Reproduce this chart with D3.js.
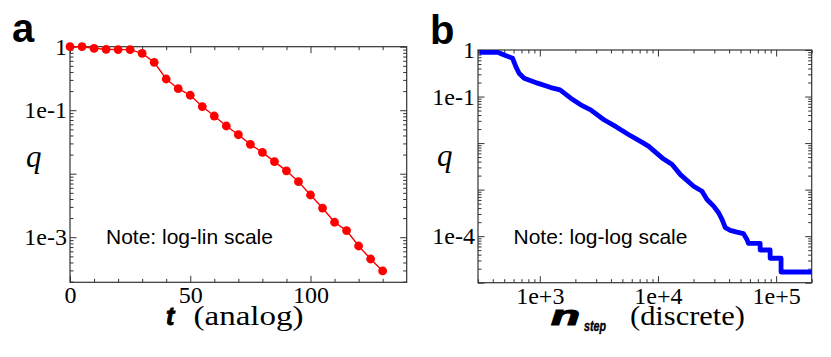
<!DOCTYPE html>
<html>
<head>
<meta charset="utf-8">
<script src="https://cdn.jsdelivr.net/npm/d3@7"></script>
<style>
  body { margin: 0; background: #fff; }
  svg { display: block; }
</style>
</head>
<body>
<svg id="chart" width="831" height="357"></svg>
<script>
// panel a: q vs t (analog), log-lin
var tA = [0, 5, 10, 15, 20, 25, 30, 35, 40, 45, 50, 55, 60, 65, 70, 75, 80, 85, 90, 95, 100, 105, 110, 115, 120, 125, 130];
var qA = [1.0, 1.0, 0.94, 0.91, 0.90, 0.90, 0.785, 0.568, 0.31, 0.218, 0.172, 0.114, 0.081, 0.0564, 0.0411, 0.029,
          0.0217, 0.0155, 0.0111, 0.0075, 0.00462, 0.00288, 0.00172, 0.00127, 0.000727, 0.000454, 0.000294];

// panel b: q vs n_step (discrete), log-log
var nStep = [308, 440, 500, 589, 627, 668, 737, 957, 1239, 1484, 1827, 2220, 2694, 3488, 4378, 5671, 7362, 8363,
             10840, 13180, 15490, 20040, 23600, 26000, 29570, 32590, 34830, 37130, 40940, 46590, 52970, 56620,
             58340, 73250, 73250, 88980, 88980, 110100, 110100, 200000];
var qB = [0.893, 0.893, 0.782, 0.664, 0.439, 0.317, 0.248, 0.194, 0.156, 0.139, 0.0924, 0.0664, 0.0519, 0.0317,
          0.0228, 0.0151, 0.01035, 0.0085, 0.0048, 0.00345, 0.0021, 0.00118, 0.000924, 0.000614, 0.000441,
          0.000318, 0.000229, 0.000152, 0.000133, 0.000122, 0.000113, 0.000085, 0.00007, 0.00007, 0.0000504,
          0.0000504, 0.0000335, 0.0000335, 0.000017, 0.000017];

var tTicksA = [0, 50, 100];
var qLabelsA = [1, 1e-1, 1e-3];
var nTicksB = [1e3, 1e4, 1e5];
var qLabelsB = [1, 1e-1, 1e-4];

var svg = d3.select('#chart'),
    serif = '"Liberation Serif", "Times New Roman", serif',
    sans = '"Liberation Sans", Arial, Helvetica, sans-serif',
    frameColor = '#333';

var fmtExp = function (v) {
  if (v === 1) return '1';
  var e = Math.round(Math.log10(v));
  return '1e' + (e > 0 ? '+' : '') + e;
};

// all 2..9 minor values inside a log domain
var logMinors = function (lo, hi) {
  var out = [];
  for (var e = Math.floor(Math.log10(lo)); e <= Math.ceil(Math.log10(hi)); e++) {
    for (var m = 2; m <= 9; m++) {
      var v = m * Math.pow(10, e);
      if (v >= lo && v <= hi) out.push(v);
    }
  }
  return out;
};
var decades = function (lo, hi) {
  var out = [];
  for (var e = Math.ceil(Math.log10(lo)); e <= Math.floor(Math.log10(hi)); e++) out.push(Math.pow(10, e));
  return out;
};

var styleAxis = function (g) {
  g.select('.domain').remove();
  g.selectAll('line').attr('stroke', frameColor).attr('stroke-width', 1);
  g.selectAll('text').attr('font-family', serif).attr('font-size', 24).attr('fill', '#000');
};

var drawFrame = function (x, y, opts) {
  var x0 = x.range()[0], x1 = x.range()[1], y0 = y.range()[0], y1 = y.range()[1];
  var g = svg.append('g');

  // bottom + top
  g.append('g').attr('transform', 'translate(0,' + y0 + ')')
    .call(d3.axisBottom(x).tickValues(opts.xMinor).tickSize(-3.5).tickFormat(''))
    .call(styleAxis);
  g.append('g').attr('transform', 'translate(0,' + y0 + ')')
    .call(d3.axisBottom(x).tickValues(opts.xMajor).tickSize(-6.5).tickPadding(4).tickFormat(opts.xFmt))
    .call(styleAxis);
  g.append('g').attr('transform', 'translate(0,' + y1 + ')')
    .call(d3.axisTop(x).tickValues(opts.xMinor).tickSize(-3.5).tickFormat(''))
    .call(styleAxis);
  g.append('g').attr('transform', 'translate(0,' + y1 + ')')
    .call(d3.axisTop(x).tickValues(opts.xMajor).tickSize(-6.5).tickFormat(''))
    .call(styleAxis);

  // left + right
  g.append('g').attr('transform', 'translate(' + x0 + ',0)')
    .call(d3.axisLeft(y).tickValues(opts.yMinor).tickSize(-3.5).tickFormat(''))
    .call(styleAxis);
  g.append('g').attr('transform', 'translate(' + x0 + ',0)')
    .call(d3.axisLeft(y).tickValues(opts.yMajor).tickSize(-6.5).tickPadding(3)
      .tickFormat(function (v) { return opts.yLabels.indexOf(v) >= 0 ? fmtExp(v) : ''; }))
    .call(styleAxis);
  g.append('g').attr('transform', 'translate(' + x1 + ',0)')
    .call(d3.axisRight(y).tickValues(opts.yMinor).tickSize(-3.5).tickFormat(''))
    .call(styleAxis);
  g.append('g').attr('transform', 'translate(' + x1 + ',0)')
    .call(d3.axisRight(y).tickValues(opts.yMajor).tickSize(-6.5).tickFormat(''))
    .call(styleAxis);

  g.append('rect')
    .attr('x', x0).attr('y', y1)
    .attr('width', x1 - x0).attr('height', y0 - y1)
    .attr('fill', 'none').attr('stroke', frameColor).attr('stroke-width', 1.2);
};

/* ---------- panel a ---------- */
var xA = d3.scaleLinear().domain([0, 140]).range([70, 406.7]),
    yA = d3.scaleLog().domain([Math.pow(10, -3.71), 1]).range([282.3, 46.7]);

drawFrame(xA, yA, {
  xMajor: tTicksA,
  xMinor: [10, 20, 30, 40, 60, 70, 80, 90, 110, 120, 130],
  xFmt: d3.format('d'),
  yMajor: decades(yA.domain()[0], 1),
  yMinor: logMinors(yA.domain()[0], 1),
  yLabels: qLabelsA
});

var ptsA = tA.map(function (t, i) { return [t, qA[i]]; });
svg.append('path')
  .datum(ptsA)
  .attr('d', d3.line().x(function (d) { return xA(d[0]); }).y(function (d) { return yA(d[1]); }))
  .attr('fill', 'none').attr('stroke', '#ff0000').attr('stroke-width', 1.4);
svg.append('g').selectAll('circle')
  .data(ptsA).enter().append('circle')
  .attr('cx', function (d) { return xA(d[0]); })
  .attr('cy', function (d) { return yA(d[1]); })
  .attr('r', 4.4)
  .attr('fill', '#ff0000');

/* ---------- panel b ---------- */
var xB = d3.scaleLog().domain([300, 2e5]).range([478, 811.7]),
    yB = d3.scaleLog().domain([1e-5, 1]).range([282.7, 50]);

drawFrame(xB, yB, {
  xMajor: nTicksB,
  xMinor: logMinors(300, 2e5),
  xFmt: fmtExp,
  yMajor: decades(1e-5, 1),
  yMinor: logMinors(1e-5, 1),
  yLabels: qLabelsB
});

var ptsB = nStep.map(function (n, i) { return [n, qB[i]]; });
svg.append('path')
  .datum(ptsB)
  .attr('d', d3.line().x(function (d) { return xB(d[0]); }).y(function (d) { return yB(d[1]); }))
  .attr('fill', 'none').attr('stroke', '#0000ff').attr('stroke-width', 4.8)
  .attr('stroke-linejoin', 'round');

/* ---------- text ---------- */
var txt = function (x, y, s, font, size, extra) {
  var t = svg.append('text').attr('x', x).attr('y', y).text(s)
    .attr('font-family', font).attr('font-size', size).attr('fill', '#000');
  if (extra) Object.keys(extra).forEach(function (k) { t.attr(k, extra[k]); });
  return t;
};

// panel letters
txt(12, 41.5, 'a', sans, 40, { 'font-weight': 'bold' });
txt(430, 43.5, 'b', sans, 40, { 'font-weight': 'bold' });

// y labels
txt(26, 167, 'q', serif, 31, { 'font-style': 'italic' });
txt(437, 166, 'q', serif, 31, { 'font-style': 'italic' });

// notes
txt(106, 243.5, 'Note: log-lin scale', sans, 21);
txt(513.5, 244, 'Note: log-log scale', sans, 21);

// x labels
txt(166, 324.5, 't', sans, 25, { 'font-weight': 'bold', 'font-style': 'italic', stroke: '#000', 'stroke-width': 0.9 });
txt(193.5, 325, '(analog)', serif, 27, { textLength: 110, lengthAdjust: 'spacingAndGlyphs' });
txt(551, 324.5, 'n', sans, 27, { 'font-weight': 'bold', 'font-style': 'italic', stroke: '#000', 'stroke-width': 1.1,
  textLength: 29, lengthAdjust: 'spacingAndGlyphs' });
txt(584, 331, 'step', sans, 14, { 'font-weight': 'bold', 'font-style': 'italic', stroke: '#000', 'stroke-width': 0.4,
  textLength: 22, lengthAdjust: 'spacingAndGlyphs' });
txt(630, 325, '(discrete)', serif, 27, { textLength: 115, lengthAdjust: 'spacingAndGlyphs' });
</script>
</body>
</html>
